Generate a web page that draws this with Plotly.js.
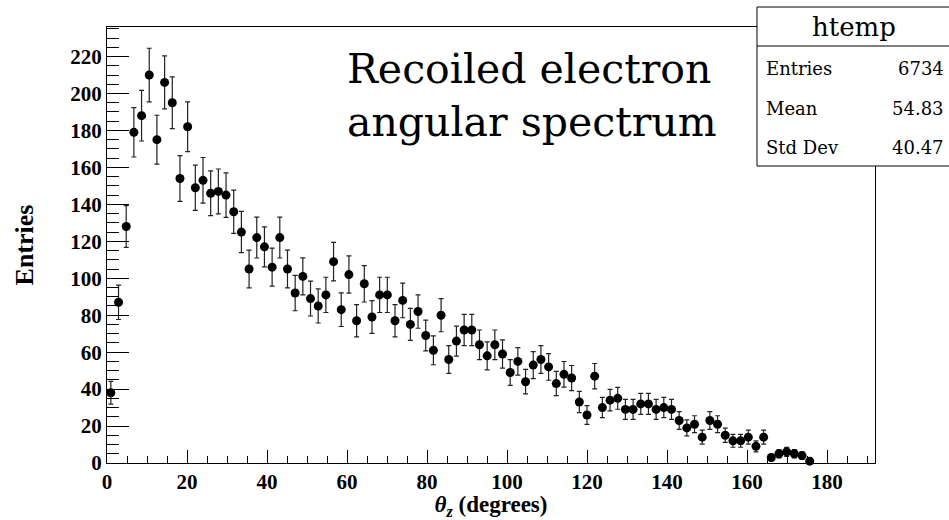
<!DOCTYPE html>
<html>
<head>
<meta charset="utf-8">
<script src="https://cdn.plot.ly/plotly-3.0.1.min.js"></script>
<style>html,body{margin:0;padding:0;background:#fff;}#chart{width:949px;height:520px;}</style>
</head>
<body>
<div id="chart"></div>
<script>
// Histogram "htemp": 100 bins of width 1.92 over [0, 192]
const binWidth = 1.92;
const binCenters = [];
const counts = [
  38, 87, 128, 179, 188, 210, 175, 206, 195, 154,
  182, 149, 153, 146, 147, 145, 136, 125, 105, 122,
  117, 106, 122, 105, 92, 101, 89, 85, 91, 109,
  83, 102, 77, 97, 79, 91, 91, 77, 88, 75,
  82, 69, 61, 80, 56, 66, 72, 72, 64, 58,
  64, 59, 49, 55, 44, 53, 56, 52, 43, 48,
  46, 33, 26, 47, 30, 34, 35, 29, 29, 32,
  32, 29, 30, 29, 23, 19, 21, 14, 23, 21,
  15, 12, 12, 14, 9, 14, 3, 5, 6, 5,
  4, 1
];
for (let i = 0; i < counts.length; i++) binCenters.push(+(binWidth * (i + 0.5)).toFixed(2));

const xTickVals = [0, 20, 40, 60, 80, 100, 120, 140, 160, 180];
const yTickVals = [0, 20, 40, 60, 80, 100, 120, 140, 160, 180, 200, 220];
const titleLines = ["Recoiled electron", "angular spectrum"];
const statsName = "htemp";
const statsLabels = ["Entries", "Mean", "Std Dev"];
const statsValues = ["6734", "54.83", "40.47"];

const L = 107, R = 74, T = 27, B = 57, W = 949, H = 520;
const pw = W - L - R, ph = H - T - B;
const px = x => (x - L) / pw;
const py = y => (H - B - y) / ph;

const serif = "Liberation Serif, Times New Roman, serif";
const wideSerif = "DejaVu Serif, serif";

const trace = {
  type: "scatter",
  mode: "markers",
  x: binCenters,
  y: counts,
  marker: {color: "#000", size: 9},
  error_y: {type: "sqrt", visible: true, color: "#222", thickness: 1.2, width: 2.5},
  hoverinfo: "skip",
  cliponaxis: false
};

const annotations = [
  {text: statsName, xref: "paper", yref: "paper", x: px(854), y: py(27), xanchor: "center", yanchor: "middle",
   showarrow: false, font: {family: wideSerif, size: 26, color: "#000"}}
];
const rowY = [68, 108, 148];
for (let i = 0; i < statsLabels.length; i++) {
  annotations.push({text: statsLabels[i], xref: "paper", yref: "paper", x: px(764), y: py(rowY[i]),
    xanchor: "left", yanchor: "middle", showarrow: false, font: {family: wideSerif, size: 18, color: "#000"}});
  annotations.push({text: statsValues[i], xref: "paper", yref: "paper", x: px(946), y: py(rowY[i]),
    xanchor: "right", yanchor: "middle", showarrow: false, font: {family: wideSerif, size: 18, color: "#000"}});
}

const layout = {
  width: W, height: H,
  margin: {l: L, r: R, t: T, b: B, pad: 0},
  paper_bgcolor: "#fff", plot_bgcolor: "#fff",
  showlegend: false,
  hovermode: false,
  title: {
    text: titleLines.join("<br>"),
    xref: "container", yref: "container",
    x: 347 / W, xanchor: "left",
    y: 1 - 83 / H, yanchor: "top",
    font: {family: wideSerif, size: 41, color: "#000"}
  },
  xaxis: {
    range: [0, 192],
    tickmode: "array", tickvals: xTickVals,
    ticks: "inside", ticklen: 13, tickwidth: 1, tickcolor: "#000",
    minor: {dtick: 5, tick0: 0, ticks: "inside", ticklen: 7, tickwidth: 1, tickcolor: "#000", showgrid: false},
    showline: true, mirror: true, linecolor: "#000", linewidth: 1,
    showgrid: false, zeroline: false,
    tickfont: {family: serif, size: 21, color: "#000", weight: "bold"},
    title: {text: "<i>θ</i><sub><i>z</i></sub> (degrees)", font: {family: serif, size: 23, color: "#000", weight: "bold"}, standoff: 7}
  },
  yaxis: {
    range: [0, 236],
    tickmode: "array", tickvals: yTickVals,
    ticks: "inside", ticklen: 22, tickwidth: 1, tickcolor: "#000",
    minor: {dtick: 5, tick0: 0, ticks: "inside", ticklen: 12, tickwidth: 1, tickcolor: "#000", showgrid: false},
    showline: true, mirror: true, linecolor: "#000", linewidth: 1,
    showgrid: false, zeroline: false,
    tickfont: {family: serif, size: 21, color: "#000", weight: "bold"},
    title: {text: "Entries", font: {family: serif, size: 26, color: "#000", weight: "bold"}, standoff: 29}
  },
  shapes: [
    {type: "rect", xref: "paper", yref: "paper", x0: px(757), x1: px(1000), y0: py(166), y1: py(7),
     fillcolor: "#fff", line: {color: "#000", width: 1}, layer: "above"},
    {type: "line", xref: "paper", yref: "paper", x0: px(757), x1: px(1000), y0: py(46), y1: py(46),
     line: {color: "#000", width: 1}, layer: "above"}
  ],
  annotations: annotations
};

Plotly.newPlot("chart", [trace], layout, {displayModeBar: false, staticPlot: true});
</script>
</body>
</html>
